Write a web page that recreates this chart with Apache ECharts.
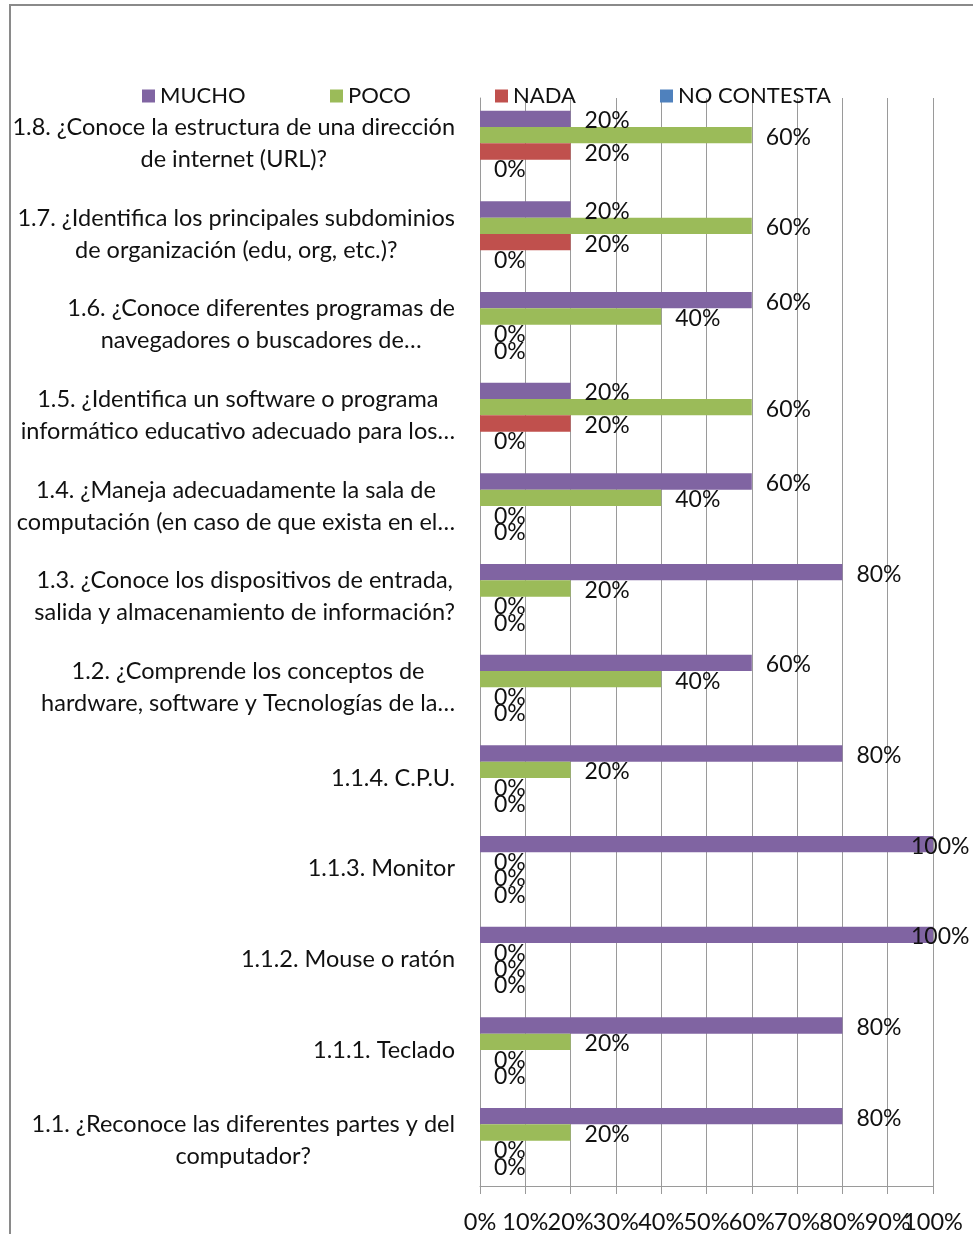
<!DOCTYPE html>
<html><head><meta charset="utf-8">
<script src="https://cdn.jsdelivr.net/npm/echarts@6/dist/echarts.min.js"></script>
<style>html,body{margin:0;padding:0;background:#fff}#c{width:973px;height:1234px}</style>
</head><body><div id="c"></div>
<script>
// ---- data (top to bottom as displayed) ----
const categories = [
  '1.8. ¿Conoce la estructura de una dirección\nde internet (URL)?',
  '1.7. ¿Identifica los principales subdominios\nde organización (edu, org, etc.)?',
  '1.6. ¿Conoce diferentes programas de\nnavegadores o buscadores de…',
  '1.5. ¿Identifica un software o programa\ninformático educativo adecuado para los…',
  '1.4. ¿Maneja adecuadamente la sala de\ncomputación (en caso de que exista en el…',
  '1.3. ¿Conoce los dispositivos de entrada,\nsalida y almacenamiento de información?',
  '1.2. ¿Comprende los conceptos de\nhardware, software y Tecnologías de la…',
  '1.1.4. C.P.U.',
  '1.1.3. Monitor',
  '1.1.2. Mouse o ratón',
  '1.1.1. Teclado',
  '1.1. ¿Reconoce las diferentes partes y del\ncomputador?'
];
const mucho      = [20, 20, 60, 20, 60, 80, 60, 80, 100, 100, 80, 80];
const poco       = [60, 60, 40, 60, 40, 20, 40, 20, 0, 0, 20, 20];
const nada       = [20, 20, 0, 20, 0, 0, 0, 0, 0, 0, 0, 0];
const noContesta = [0, 0, 0, 0, 0, 0, 0, 0, 0, 0, 0, 0];
const seriesNames = ['MUCHO', 'POCO', 'NADA', 'NO CONTESTA'];
const xTickLabels = ['0%', '10%', '20%', '30%', '40%', '50%', '60%', '70%', '80%', '90%', '100%'];

// ---- style ----
const FONT = 'Lato';
const FS = 22;
const FS_CAT = 23.5;
const FS_X = 23.5;
const FS_VAL = 23;
const TXT = '#111';
const GRID = '#9a9a9a';
const colors = ['#8064A2', '#9BBB59', '#C0504D', '#4F81BD'];
const legendLefts = [142, 330, 495, 660];
const gridBox = {left: 480, right: 40, top: 98, bottom: 47, containLabel: false};

const seriesData = [mucho, poco, nada, noContesta];

// x tick labels split over two overlaid axes (even / odd) so none are auto-hidden
const xLabelAxis = (gridIndex, parity, main) => ({
  type: 'value', gridIndex, min: 0, max: 100, interval: 10,
  axisLine: {show: main, lineStyle: {color: GRID}},
  axisTick: {show: main, length: 8, lineStyle: {color: GRID}},
  splitLine: {show: main, lineStyle: {color: GRID}},
  axisLabel: {
    formatter: v => { const k = Math.round(v / 10); return k % 2 === parity ? xTickLabels[k] : ''; },
    showMinLabel: true, showMaxLabel: true, hideOverlap: false,
    fontFamily: FONT, fontSize: FS_X, color: TXT, margin: 24
  }
});

const chart = echarts.init(document.getElementById('c'), null, {renderer: 'canvas'});
chart.setOption({
  animation: false,
  backgroundColor: '#fff',
  textStyle: {fontFamily: FONT},
  graphic: [{
    type: 'rect', z: -10, silent: true,
    shape: {x: 10, y: 5, width: 1000, height: 1300},
    style: {fill: 'none', stroke: '#8a8a8a', lineWidth: 2}
  }],
  legend: seriesNames.map((n, i) => ({
    data: [n], left: legendLefts[i], top: 84, padding: 0,
    icon: 'rect', itemWidth: 13, itemHeight: 13,
    textStyle: {fontFamily: FONT, fontSize: FS, color: TXT, lineHeight: 24},
    selectedMode: false
  })),
  grid: [Object.assign({}, gridBox), Object.assign({}, gridBox)],
  xAxis: [xLabelAxis(0, 0, true), xLabelAxis(1, 1, false)],
  yAxis: [{
    type: 'category', gridIndex: 0, data: categories, inverse: true,
    axisLine: {show: true, lineStyle: {color: GRID}},
    axisTick: {show: false},
    splitLine: {show: false},
    axisLabel: {
      align: 'right', margin: 25,
      formatter: v => v.split('\n').map(s => '{c|' + s + '}').join('\n'),
      rich: {c: {align: 'center', fontFamily: FONT, fontSize: FS_CAT, color: TXT, lineHeight: 32}}
    }
  }, {
    type: 'category', gridIndex: 1, data: categories, inverse: true, show: false
  }],
  series: seriesNames.map((n, i) => ({
    type: 'bar', name: n, xAxisIndex: 0, yAxisIndex: 0,
    data: seriesData[i].map(v => v >= 100 ? {value: v, label: {offset: [-36, 2]}} : v),
    barGap: '0%', barCategoryGap: '28%',
    itemStyle: {color: colors[i]},
    label: {
      show: true, position: 'right', distance: 14, offset: [0, 2],
      formatter: '{c}%',
      fontFamily: FONT, fontSize: FS_VAL, color: TXT
    }
  }))
});
</script></body></html>
